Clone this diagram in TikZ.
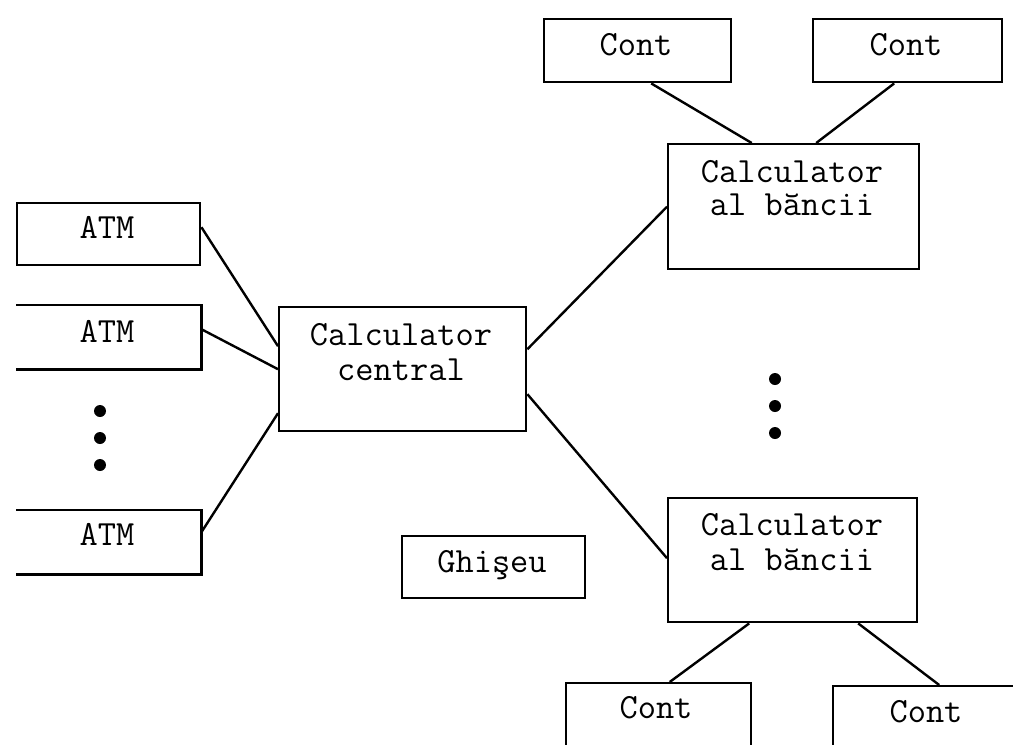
\documentclass[tikz,border=0pt]{standalone}
\usepackage{fontspec}
\begin{document}
\begin{tikzpicture}[x=1pt,y=-1pt,
  line width=2.4pt,
  box/.style={draw, rectangle, inner sep=0pt, anchor=north west},
  openbox/.style={rectangle, inner sep=0pt, anchor=north west},
  lbl/.style={font=\ttfamily\fontsize{35.4}{38}\selectfont, inner sep=0pt, anchor=base},
  link/.style={line width=2.4pt},
  dot/.style={circle, fill, inner sep=0pt, minimum size=12pt}]
\useasboundingbox (0,0) rectangle (1013,745);
\clip (0,0) rectangle (1013,745);

% ATM terminals
\node[box, minimum width=183pt, minimum height=62pt] (atm1) at (16,202) {};
\node[openbox, minimum width=183pt, minimum height=62pt] (atm2) at (16,305) {};
\node[openbox, minimum width=183pt, minimum height=62pt] (atm3) at (16,510) {};
\draw (atm2.north west) -- (atm2.north east) -- (atm2.south east) -- (atm2.south west);
\draw (atm3.north west) -- (atm3.north east) -- (atm3.south east) -- (atm3.south west);
\node[lbl] (t-atm1) at (107,238) {ATM};
\node[lbl] (t-atm2) at (107,342) {ATM};
\node[lbl] (t-atm3) at (107,545) {ATM};
\node[dot] (ld1) at (100,411) {};
\node[dot] (ld2) at (100,438) {};
\node[dot] (ld3) at (100,465) {};

% central computer
\node[box, minimum width=247pt, minimum height=124pt] (central) at (278,306) {};
\node[lbl] (t-c1) at (401,345) {Calculator};
\node[lbl] (t-c2) at (401,380) {central};

% bank computers
\node[box, minimum width=251pt, minimum height=125pt] (bank1) at (667,143) {};
\node[lbl] (t-b1a) at (792,182) {Calculator};
\node[lbl] (t-b1b) at (792,215) {al b\u{a}ncii};
\node[box, minimum width=249pt, minimum height=124pt] (bank2) at (667,497) {};
\node[lbl] (t-b2a) at (792,535) {Calculator};
\node[lbl] (t-b2b) at (792,570) {al b\u{a}ncii};
\node[dot] (rd1) at (775,379) {};
\node[dot] (rd2) at (775,406) {};
\node[dot] (rd3) at (775,433) {};

% accounts
\node[box, minimum width=187pt, minimum height=63pt] (cont1) at (543,18) {};
\node[lbl] (t-k1) at (636,55) {Cont};
\node[box, minimum width=189pt, minimum height=63pt] (cont2) at (812,18) {};
\node[lbl] (t-k2) at (906,55) {Cont};
\node[box, minimum width=185pt, minimum height=70pt] (cont3) at (565,682) {};
\node[lbl] (t-k3) at (656,718) {Cont};
\node[box, minimum width=190pt, minimum height=70pt] (cont4) at (832,685) {};
\node[lbl] (t-k4) at (926,722) {Cont};

% counter
\node[box, minimum width=183pt, minimum height=62pt] (ghiseu) at (401,535) {};
\node[lbl] (t-g) at (492,572) {Ghişeu};

% connections
\draw[link] ([yshift=7pt]atm1.east) -- ([yshift=23pt]central.west);
\draw[link] ([yshift=8pt]atm2.east) -- (central.west);
\draw[link] ([yshift=10pt]atm3.east) -- ([yshift=-44pt]central.west);
\draw[link] ([yshift=20pt]central.east) -- (bank1.west);
\draw[link] ([yshift=-25pt]central.east) -- ([yshift=2pt]bank2.west);
\draw[link] ([xshift=13.5pt]cont1.south) -- ([xshift=-42pt]bank1.north);
\draw[link] ([xshift=-13.5pt]cont2.south) -- ([xshift=22.5pt]bank1.north);
\draw[link] ([xshift=-43.5pt]bank2.south) -- ([xshift=11pt]cont3.north);
\draw[link] ([xshift=65.5pt]bank2.south) -- ([xshift=11pt]cont4.north);
\end{tikzpicture}
\end{document}
